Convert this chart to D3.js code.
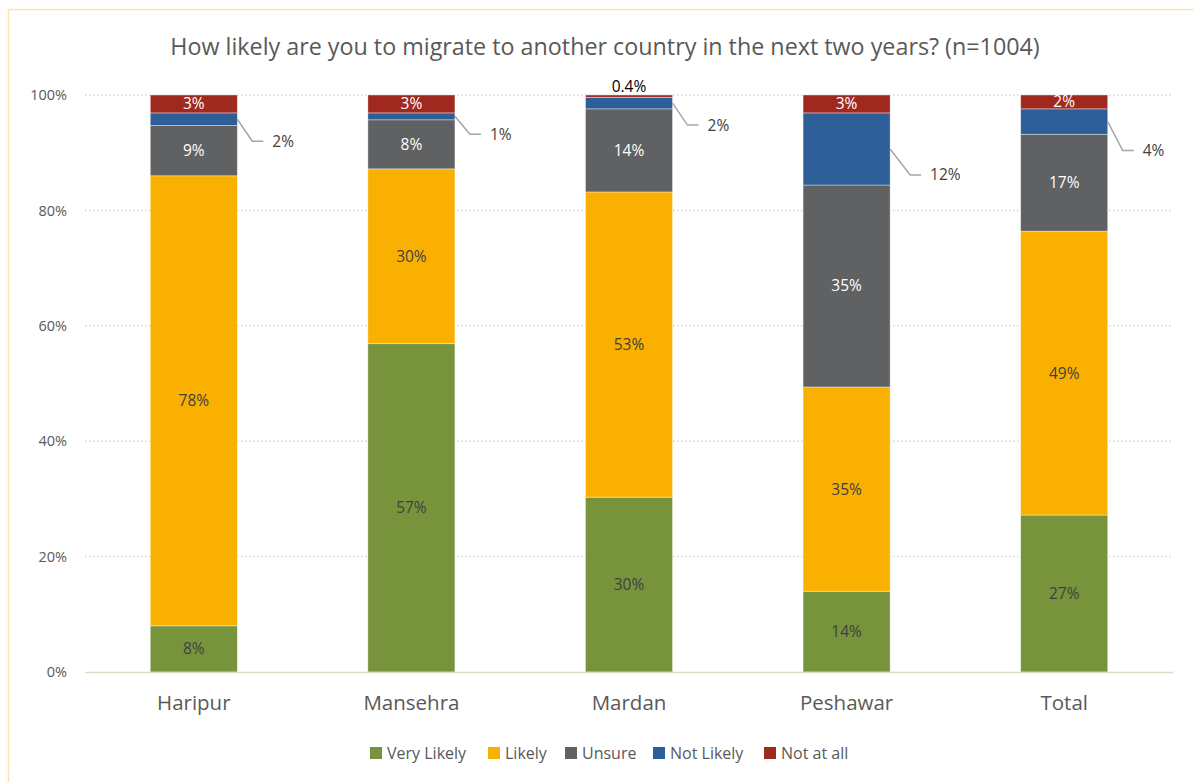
<!DOCTYPE html>
<html><head><meta charset="utf-8">
<script src="https://cdn.jsdelivr.net/npm/d3@7"></script>
<style>
html,body{margin:0;padding:0;background:#fff;}
svg{display:block;font-family:"Open Sans",sans-serif;}
</style></head>
<body><svg id="c" width="1193" height="782"></svg>
<script>
const categories = ["Haripur","Mansehra","Mardan","Peshawar","Total"];
const seriesNames = ["Very Likely","Likely","Unsure","Not Likely","Not at all"];
const veryLikely = [8.0, 56.9, 30.3, 14.0, 27.2];
const likely     = [78.0, 30.3, 52.9, 35.4, 49.2];
const unsure     = [8.7, 8.5, 14.4, 35.0, 16.8];
const notLikely  = [2.2, 1.2, 2.0, 12.5, 4.4];
const notAtAll   = [3.1, 3.1, 0.4, 3.1, 2.4];
const labelsVeryLikely = ["8%","57%","30%","14%","27%"];
const labelsLikely     = ["78%","30%","53%","35%","49%"];
const labelsUnsure     = ["9%","8%","14%","35%","17%"];
const labelsNotLikely  = ["2%","1%","2%","12%","4%"];
const labelsNotAtAll   = ["3%","3%","0.4%","3%","2%"];
const yTicks = [0,20,40,60,80,100];
const colors = ["#77933C","#F9B000","#606163","#2E5E97","#A0291F"];
const title = "How likely are you to migrate to another country in the next two years? (n=1004)";

const svg = d3.select("#c");
// outer border
svg.append("rect").attr("x",8.5).attr("y",9.5).attr("width",1300).attr("height",900)
  .attr("fill","none").attr("stroke","#FDE2AF").attr("stroke-width",1.5);

const x = d3.scaleBand().domain(categories).range([85,1173]).paddingInner(0.6).paddingOuter(0.3);
const y = d3.scaleLinear().domain([0,100]).range([672,95]);

// gridlines
svg.append("g").selectAll("line").data(yTicks.filter(t=>t>0)).join("line")
  .attr("x1",85).attr("x2",1173).attr("y1",d=>y(d)).attr("y2",d=>y(d))
  .attr("stroke","#D8D8B8").attr("stroke-width",1.5).attr("stroke-dasharray","1.5,2.5");

// y axis labels
const yAxis = d3.axisLeft(y).tickValues(yTicks).tickFormat(d=>d+"%").tickSize(0).tickPadding(0);
const ya = svg.append("g").attr("transform","translate(67,0)").call(yAxis);
ya.select(".domain").remove();
ya.selectAll("text").attr("font-family","Open Sans, sans-serif").attr("font-size",14.5).attr("fill","#595959");

const rows = categories.map((c,i)=>({cat:c, vals:[veryLikely[i],likely[i],unsure[i],notLikely[i],notAtAll[i]],
  labs:[labelsVeryLikely[i],labelsLikely[i],labelsUnsure[i],labelsNotLikely[i],labelsNotAtAll[i]]}));
const stack = d3.stack().keys([0,1,2,3,4]).value((d,k)=>d.vals[k]);
const stacked = stack(rows);

const g = svg.append("g");
stacked.forEach((layer,k)=>{
  g.append("g").selectAll("rect").data(layer).join("rect")
    .attr("x",d=>x(d.data.cat)).attr("width",x.bandwidth())
    .attr("y",d=>y(d[1])).attr("height",d=>y(d[0])-y(d[1]))
    .attr("fill",colors[k]).attr("stroke","#ffffff").attr("stroke-opacity",0.5).attr("stroke-width",0.75);
});

// x axis baseline
svg.append("line").attr("x1",85).attr("x2",1173).attr("y1",672.5).attr("y2",672.5)
  .attr("stroke","#D9DFC4").attr("stroke-width",1.5);

// x labels
const xAxis = d3.axisBottom(x).tickSize(0).tickPadding(0);
const xa = svg.append("g").attr("transform","translate(0,703)").call(xAxis);
xa.select(".domain").remove();
xa.selectAll("text").attr("dy","0.35em").attr("font-family","Open Sans, sans-serif").attr("font-size",20.5).attr("fill","#595959");

// inside labels
const labelColor = ["#404040","#404040","#ffffff",null,"#ffffff"];
stacked.forEach((layer,k)=>{
  if(k===3) return;
  layer.forEach(d=>{
    const cx = x(d.data.cat)+x.bandwidth()/2;
    let cy = (y(d[0])+y(d[1]))/2, fill = labelColor[k];
    if(k===4 && d.data.vals[4] < 1){ cy = y(100)-8; fill = "#000000"; }
    g.append("text").attr("x",cx).attr("y",cy).attr("dy","0.35em").attr("text-anchor","middle")
      .attr("font-size",15.5).attr("fill",fill).text(d.data.labs[k]);
  });
});

// Not Likely leader labels
const leaderDrop = [22, 18, 22, 26, 29];
stacked[3].forEach((d,i)=>{
  const x0 = x(d.data.cat)+x.bandwidth();
  const ym = (y(d[0])+y(d[1]))/2;
  const y1 = ym + leaderDrop[i];
  const x1 = x0 + 15 + (i===3?5:0), x2 = x1 + 11;
  g.append("polyline").attr("points",`${x0},${ym} ${x1},${y1} ${x2},${y1}`)
    .attr("fill","none").attr("stroke","#A6A6A6").attr("stroke-width",1.5);
  g.append("text").attr("x",x2+9).attr("y",y1).attr("dy","0.35em").attr("font-size",15.5)
    .attr("fill","#404040").text(d.data.labs[3]);
});

// title
svg.append("text").attr("x",605).attr("y",47).attr("dy","0.35em").attr("text-anchor","middle")
  .attr("font-size",23.3).attr("fill","#595959").text(title);

// legend
const lx = [370,488,565,653,764];
const lg = svg.append("g");
seriesNames.forEach((s,k)=>{
  lg.append("rect").attr("x",lx[k]).attr("y",747).attr("width",12).attr("height",12).attr("fill",colors[k]);
  lg.append("text").attr("x",lx[k]+17).attr("y",753).attr("dy","0.35em").attr("font-size",16)
    .attr("fill","#595959").text(s);
});
</script></body></html>
